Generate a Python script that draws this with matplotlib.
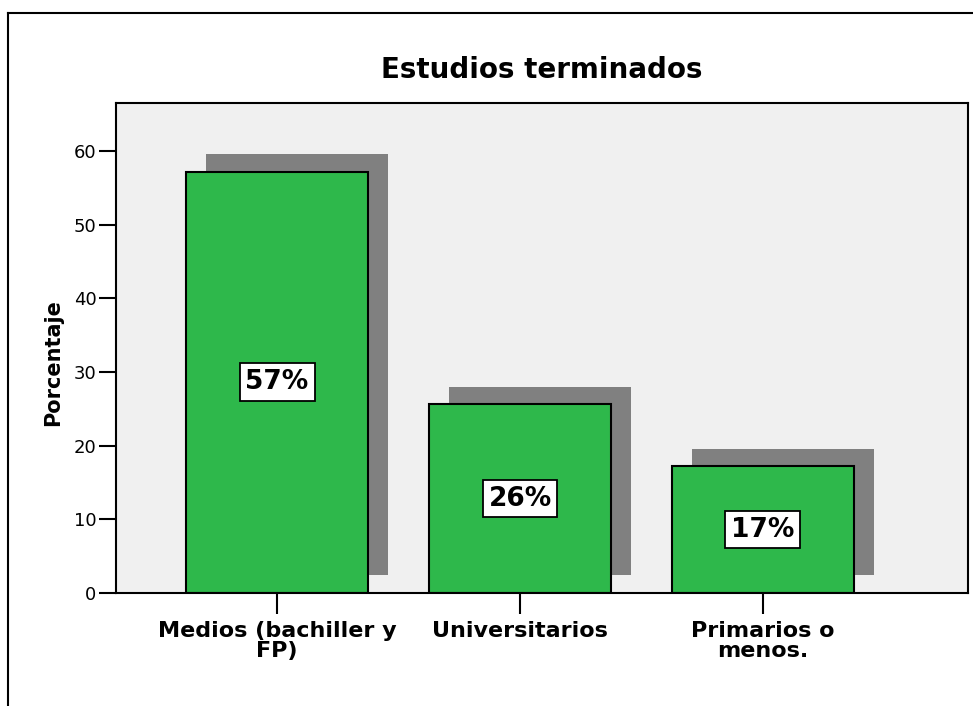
import numpy as np
import matplotlib.pyplot as plt
from matplotlib.lines import Line2D

plt.rcParams['font.family'] = ['DejaVu Sans']

# datos
categorias = ['Medios (bachiller y\nFP)', 'Universitarios', 'Primarios o\nmenos.']
porcentajes = [57.2, 25.6, 17.2]
etiquetas = ['57%', '26%', '17%']

x = np.arange(len(categorias))

fig = plt.figure(figsize=(9.73, 7.06), dpi=100)
ax = fig.add_axes([116 / 973, 1 - 593 / 706, 852 / 973, 490 / 706])
ax.set_facecolor('#f0f0f0')

# sombra de las barras
ax.bar(x + 0.083, porcentajes, width=0.75, bottom=2.4, color='#808080', zorder=1)
# barras
ax.bar(x, porcentajes, width=0.75, color='#2eb84b', edgecolor='black', linewidth=1.5, zorder=2)

for xi, v, t in zip(x, porcentajes, etiquetas):
    ax.text(xi, v / 2, t, ha='center', va='center', fontsize=19, fontweight='bold', zorder=3,
            bbox=dict(boxstyle='square,pad=0.22', facecolor='white', edgecolor='black', linewidth=1.3))

ax.set_xlim(-0.663, 2.844)
ax.set_ylim(0, 66.5)
ax.set_yticks(range(0, 61, 10))
ax.set_xticks(x)
ax.set_xticklabels(categorias, fontsize=16, fontweight='bold', linespacing=1.0)
ax.tick_params(axis='y', labelsize=13, length=12, width=1.5, pad=2)
ax.tick_params(axis='x', length=15, width=1.5, pad=5)
for s in ax.spines.values():
    s.set_linewidth(1.5)

fig.text(53 / 973, 1 - 363 / 706, 'Porcentaje', rotation=90, ha='center', va='center',
         fontsize=15, fontweight='bold')
fig.text(542 / 973, 1 - 70 / 706, 'Estudios terminados', ha='center', va='center',
         fontsize=20, fontweight='bold')

# marco exterior
fig.add_artist(Line2D([8 / 973, 8 / 973], [0, 1 - 13 / 706], transform=fig.transFigure, color='black', lw=1.5))
fig.add_artist(Line2D([8 / 973, 1], [1 - 13 / 706, 1 - 13 / 706], transform=fig.transFigure, color='black', lw=1.5))

fig.savefig('out.png', dpi=100)
